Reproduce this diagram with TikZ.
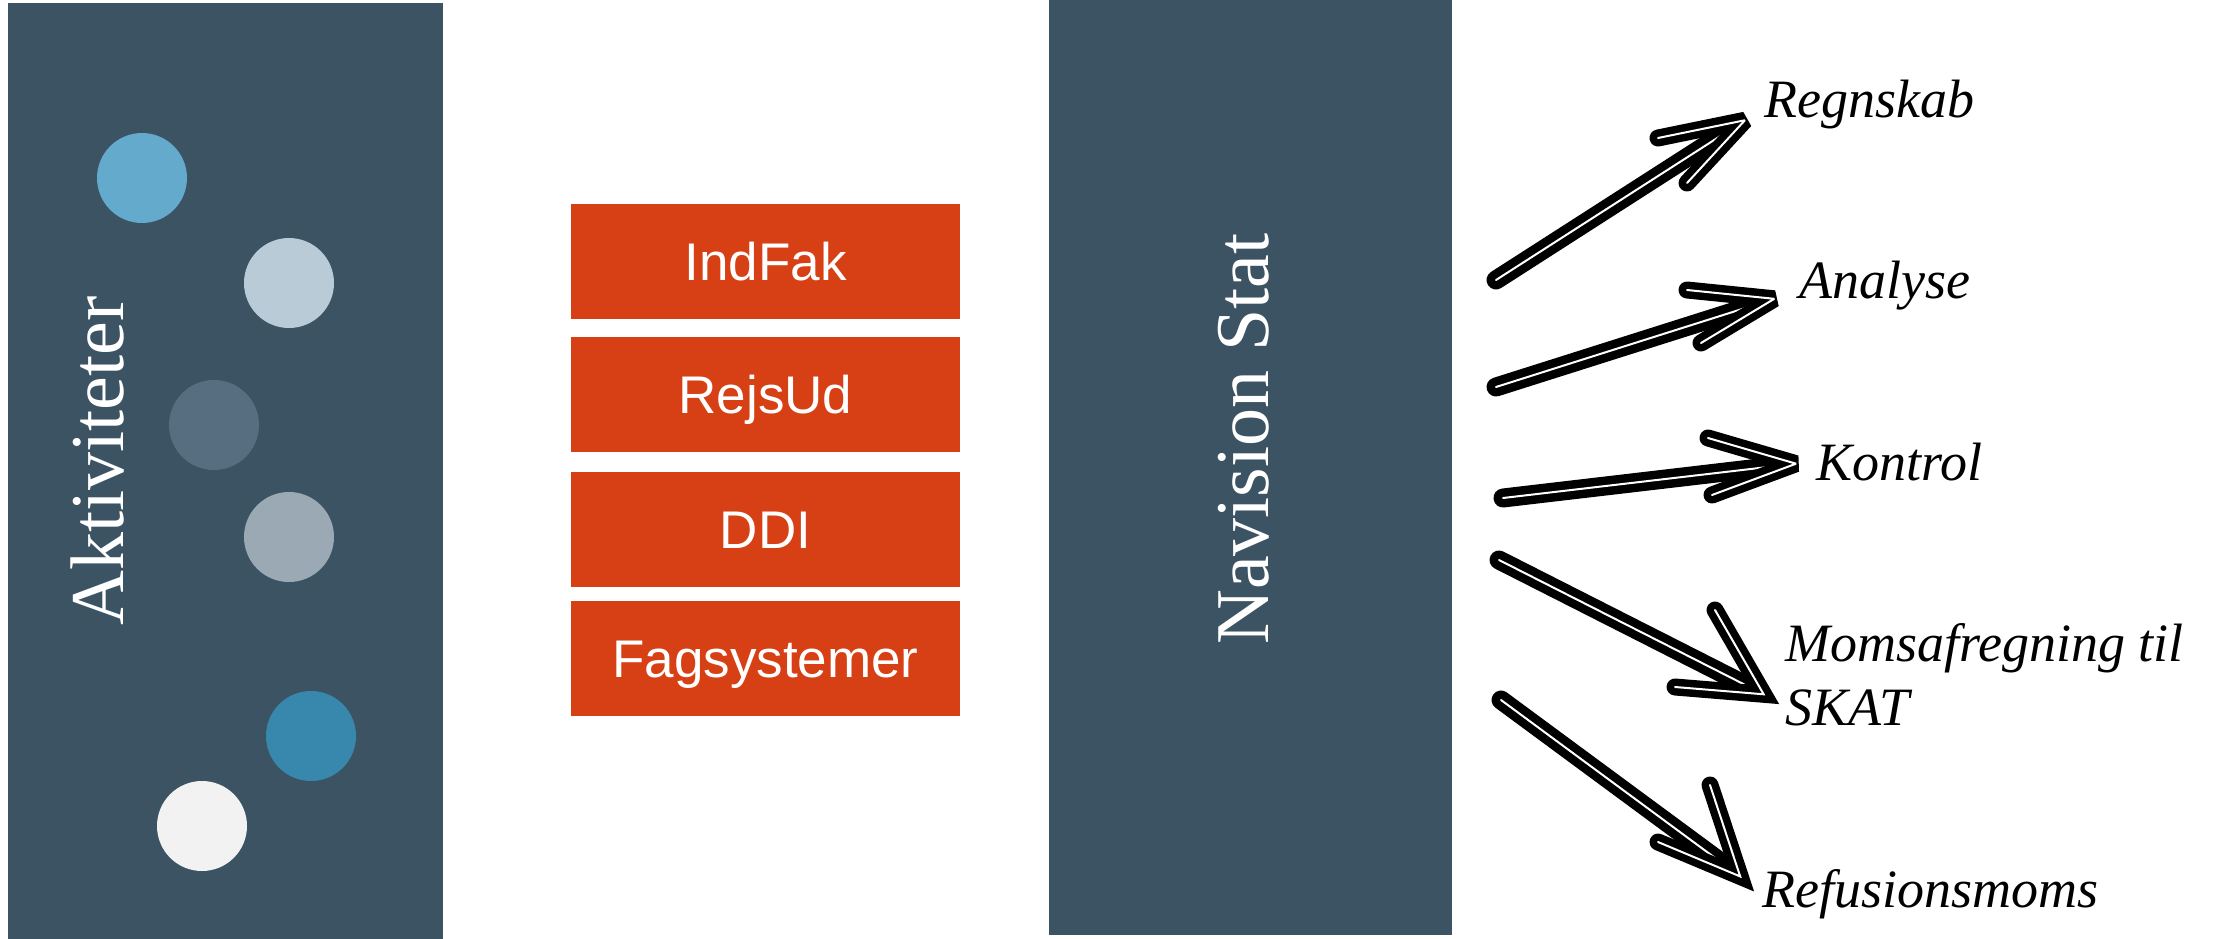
\documentclass[tikz,border=0pt]{standalone}
\usepackage{fontspec}
\setmainfont{Liberation Serif}
\newfontfamily\sansf{Liberation Sans}
\usetikzlibrary{calc}
\definecolor{panelc}{RGB}{60,83,100}
\definecolor{boxc}{RGB}{215,64,20}
\definecolor{dotA}{RGB}{99,170,204}
\definecolor{dotB}{RGB}{184,203,215}
\definecolor{dotC}{RGB}{86,110,127}
\definecolor{dotD}{RGB}{155,169,181}
\definecolor{dotE}{RGB}{56,136,174}
\definecolor{dotF}{RGB}{242,242,242}
\tikzset{
  panel/.style={rectangle, fill=panelc, inner sep=0pt},
  dot/.style={circle, minimum size=90pt, inner sep=0pt},
  sysbox/.style={rectangle, fill=boxc, minimum width=389pt, minimum height=115pt, inner sep=0pt,
    text=white, font=\sansf\fontsize{53}{60}\selectfont, text height=38pt, text depth=0pt},
  vlabel/.style={rotate=90, text=white, font=\fontsize{76}{80}\selectfont, inner sep=0pt, text height=52pt, text depth=0pt},
  outlabel/.style={anchor=base west, inner sep=0pt, font=\itshape\fontsize{54}{64}\selectfont, align=left},
  sketch/.style={draw=black, line width=8.5pt, double=white, double distance=2pt, line cap=round, line join=round},
  sketchhead/.style={draw=black, line width=7.5pt, double=white, double distance=2pt, line cap=round, line join=miter, miter limit=3},
}
\begin{document}
\begin{tikzpicture}[x=1pt,y=-1pt]
\useasboundingbox (0,0) rectangle (2216,939);
% panels
\node[panel, minimum width=435pt, minimum height=936pt] (act) at (225.5,471) {};
\node[panel, minimum width=403pt, minimum height=935pt] (nav) at (1250.5,467.5) {};
\node[vlabel] (actlbl) at (97,461) {Aktiviteter};
\node[vlabel] (navlbl) at (1242,439) {Navision Stat};
% dots
\node[dot, fill=dotA] (d1) at (142,178) {};
\node[dot, fill=dotB] (d2) at (289,283) {};
\node[dot, fill=dotC] (d3) at (214,425) {};
\node[dot, fill=dotD] (d4) at (289,537) {};
\node[dot, fill=dotE] (d5) at (311,736) {};
\node[dot, fill=dotF] (d6) at (202,826) {};
% systems
\node[sysbox] (b1) at (765.5,261) {IndFak};
\node[sysbox] (b2) at (765.5,394) {RejsUd};
\node[sysbox] (b3) at (765.5,529) {DDI};
\node[sysbox] (b4) at (765.5,658.5) {Fagsystemer};
% output labels
\node[outlabel] (l1) at (1764,118) {Regnskab};
\node[outlabel] (l2) at (1799,298) {Analyse};
\node[outlabel] (l3) at (1816,480) {Kontrol};
\node[outlabel] (l4) at (1785,725) {Momsafregning til\\SKAT};
\node[outlabel] (l5) at (1762,907) {Refusionsmoms};
% arrow geometry
\coordinate (t1) at (1496,280); \coordinate (h1) at (1750,117);
\coordinate (a1) at (1658,138); \coordinate (c1) at (1687,183);
\coordinate (t2) at (1496,387); \coordinate (h2) at (1780,297);
\coordinate (a2) at (1687,290); \coordinate (c2) at (1701,343);
\coordinate (t3) at (1503,498); \coordinate (h3) at (1802,463);
\coordinate (a3) at (1708,438); \coordinate (c3) at (1712,495);
\coordinate (t4) at (1499,560); \coordinate (h4) at (1769,697);
\coordinate (a4) at (1715,610); \coordinate (c4) at (1675,687);
\coordinate (t5) at (1501,700); \coordinate (h5) at (1745,880);
\coordinate (a5) at (1710,785); \coordinate (c5) at (1658,842);
\foreach \i in {1,...,5}{
  \draw[sketch] (t\i) -- ($(h\i)!28pt!(t\i)$);
  \draw[sketchhead] (a\i) -- ($(h\i)!6pt!(t\i)$) -- (c\i);
}
\end{tikzpicture}
\end{document}
